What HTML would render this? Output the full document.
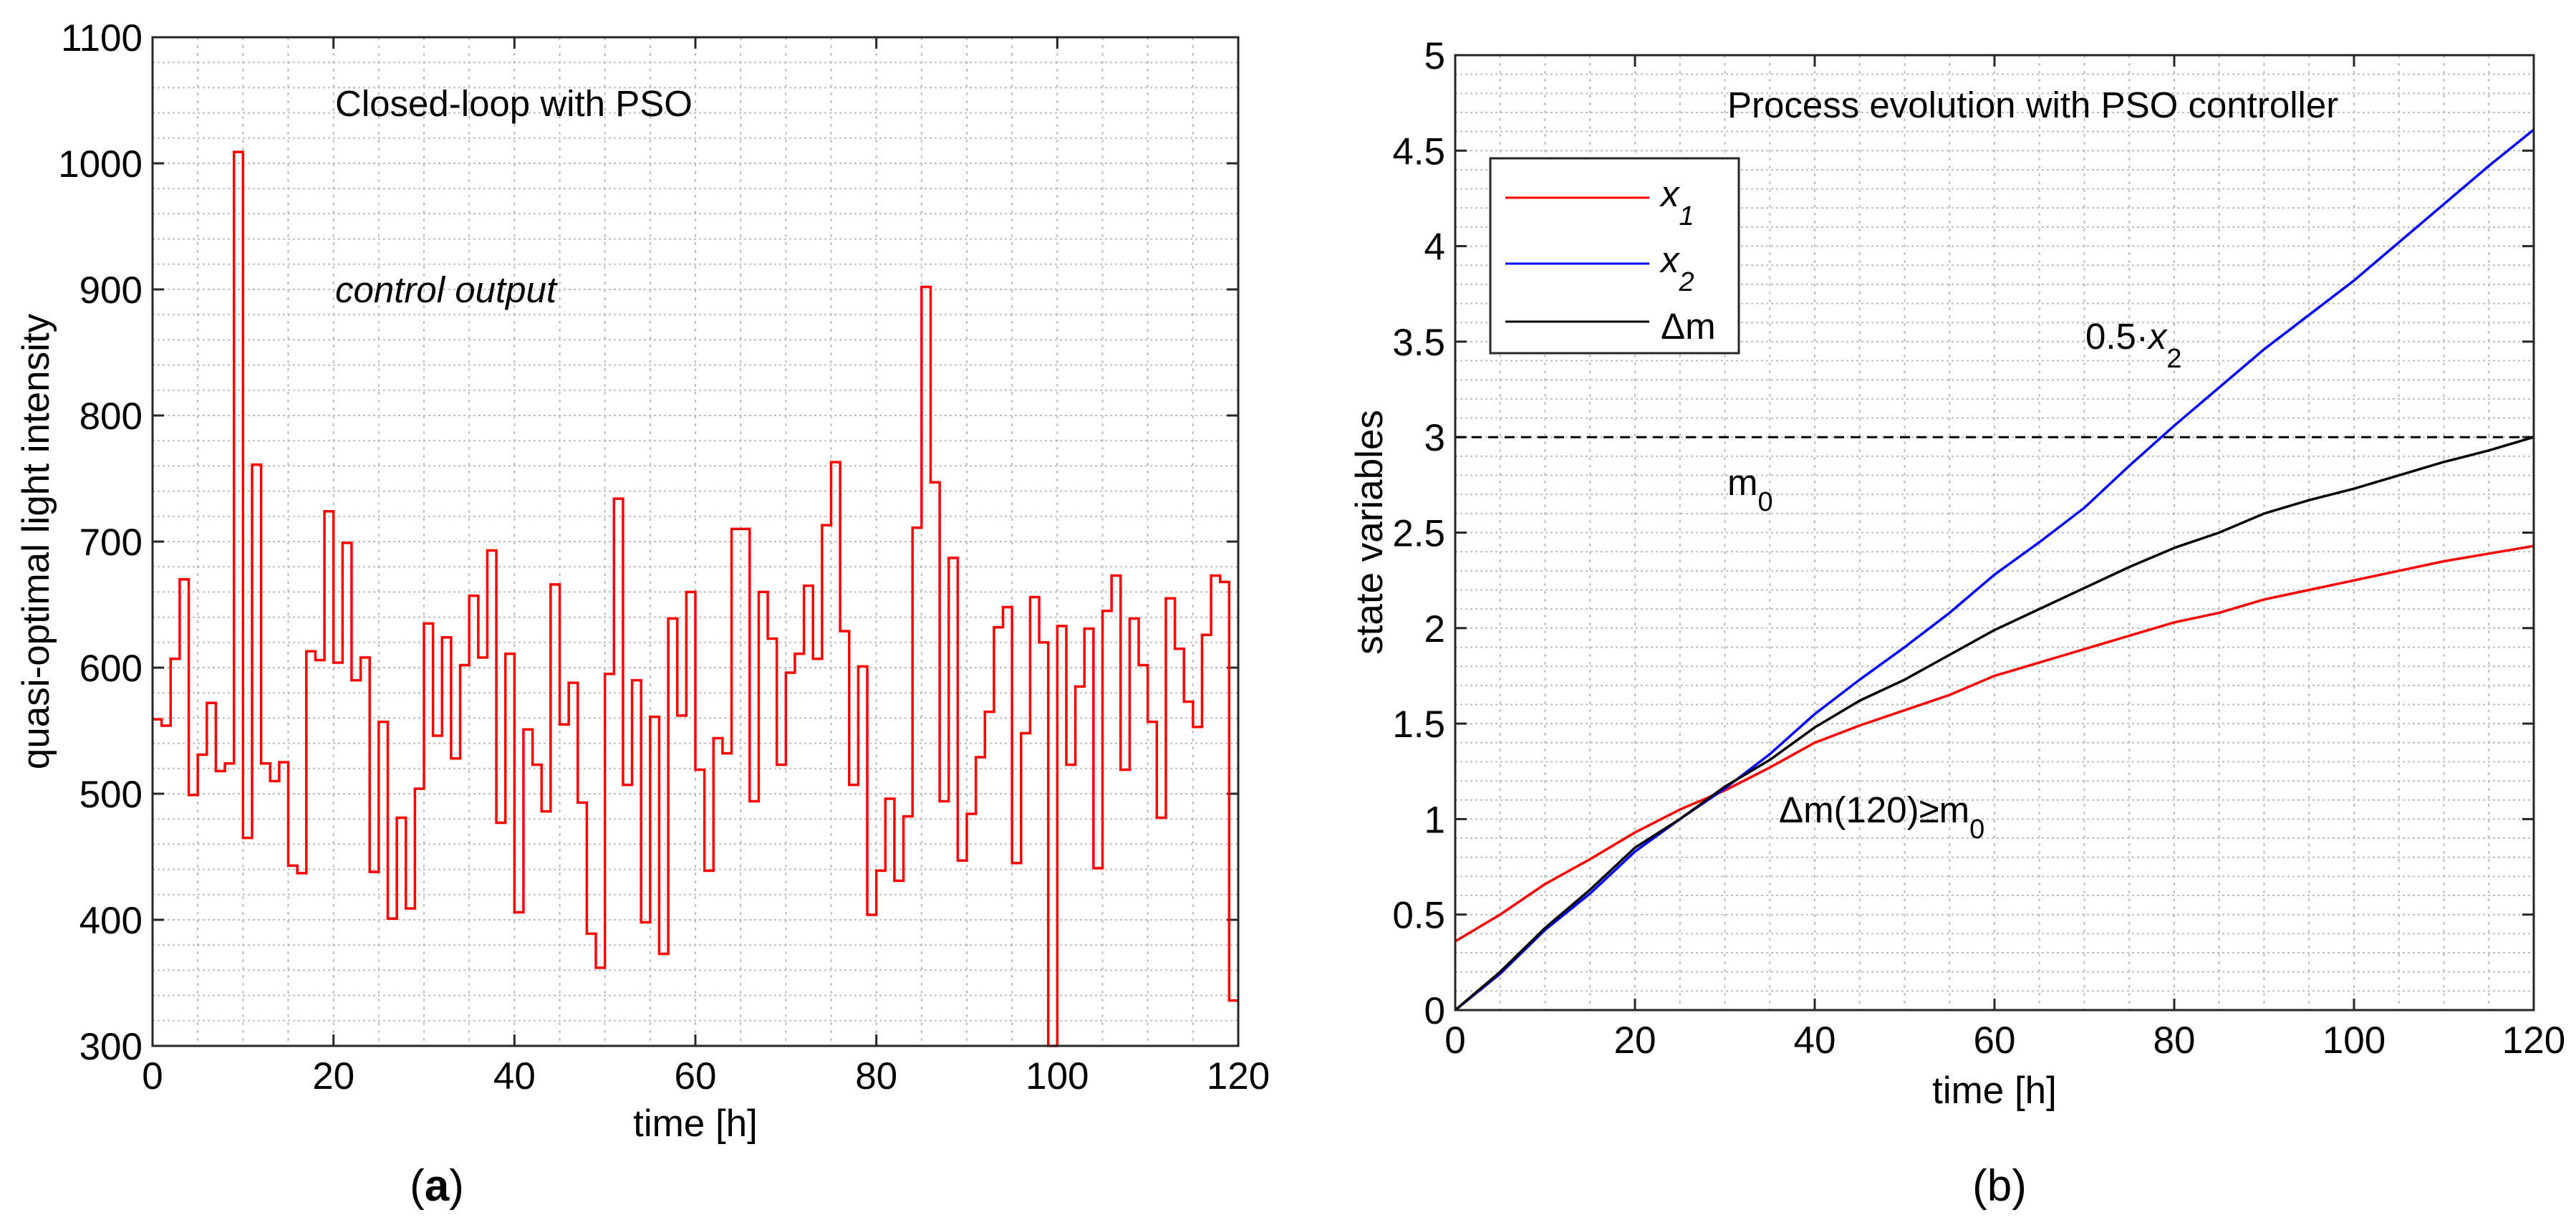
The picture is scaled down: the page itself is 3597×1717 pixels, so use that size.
<!DOCTYPE html>
<html><head><meta charset="utf-8"><style>
html,body{margin:0;padding:0;background:#fff}
svg{display:block}
text{font-family:"Liberation Sans",Arial,sans-serif;fill:#000}
</style></head><body>
<svg id="fig" width="3597" height="1717" viewBox="0 0 3597 1717" xmlns="http://www.w3.org/2000/svg">
<g id="pa"></g>
<g id="pb"></g>
</svg>
<script>
// Panel (a) data: hourly control output
const hoursA = Array.from({length:120},(_,i)=>i);
const controlOutput = [559,554,607,670,499,531,572,518,524,1009,465,761,524,510,525,443,437,613,606,724,
604,699,590,608,438,557,401,481,409,504,635,546,624,528,602,657,608,693,477,611,
406,551,523,486,666,555,588,493,389,362,595,734,507,590,398,561,373,639,562,660,
519,439,544,532,710,710,494,660,623,523,596,611,665,607,713,763,629,507,601,404,
439,496,431,482,711,902,747,494,687,447,484,529,565,632,648,445,548,656,620,300,
633,523,585,631,441,645,673,519,639,602,557,481,655,615,573,553,626,673,668,336];
const yTicksA = [300,400,500,600,700,800,900,1000,1100];
const xTicks = [0,20,40,60,80,100,120];
// Panel (b) data, sampled every 5 h
const timeB = [0,5,10,15,20,25,30,35,40,45,50,55,60,65,70,75,80,85,90,95,100,105,110,115,120];
const x1Vals = [0.36,0.5,0.66,0.79,0.93,1.05,1.15,1.27,1.4,1.49,1.57,1.65,1.75,1.82,1.89,1.96,2.03,2.08,2.15,2.2,2.25,2.3,2.35,2.39,2.43];
const x2Vals = [0,0.19,0.42,0.61,0.83,1.0,1.16,1.34,1.55,1.73,1.9,2.08,2.28,2.45,2.63,2.85,3.06,3.26,3.46,3.64,3.82,4.02,4.22,4.42,4.61];
const dmVals = [0,0.2,0.43,0.63,0.85,1.0,1.17,1.31,1.48,1.62,1.73,1.86,1.99,2.1,2.21,2.32,2.42,2.5,2.6,2.67,2.73,2.8,2.87,2.93,3.0];
const m0Value = [3];
const yTicksB = [0,0.5,1,1.5,2,2.5,3,3.5,4,4.5,5];

const NS="http://www.w3.org/2000/svg";
function mk(parent,tag,attrs,txt){const e=document.createElementNS(NS,tag);for(const k in attrs)e.setAttribute(k,attrs[k]);if(txt!==undefined)e.textContent=txt;parent.appendChild(e);return e;}

function axes(g,L,R,T,B,xmin,xmax,ymin,ymax,yMinorStep,yTicks,fmt){
  const sx=v=>L+(v-xmin)/(xmax-xmin)*(R-L);
  const sy=v=>B-(v-ymin)/(ymax-ymin)*(B-T);
  const grid=mk(g,'g',{});
  
  
  for(let v=xmin+5;v<xmax;v+=5){const l=mk(grid,'line',{x1:sx(v),x2:sx(v),y1:T,y2:B,stroke:'#bdbdbd','stroke-width':2,'stroke-dasharray':'4 7'});}
  const n=Math.round((ymax-ymin)/yMinorStep);
  for(let i=1;i<n;i++){const v=ymin+i*yMinorStep;mk(grid,'line',{x1:L,x2:R,y1:sy(v),y2:sy(v),stroke:'#bdbdbd','stroke-width':2,'stroke-dasharray':'3 4'});}
  const ax=mk(g,'g',{});
  
  
  xTicks.forEach(v=>{mk(ax,'line',{x1:sx(v),x2:sx(v),y1:B,y2:B-16,stroke:'#262626','stroke-width':3});mk(ax,'line',{x1:sx(v),x2:sx(v),y1:T,y2:T+16,stroke:'#262626','stroke-width':3});
    const t=mk(g,'text',{x:sx(v),y:B+60,'font-size':53,'text-anchor':'middle',fill:'#262626'},String(v));
    
    });
  yTicks.forEach(v=>{mk(ax,'line',{x1:L,x2:L+16,y1:sy(v),y2:sy(v),stroke:'#262626','stroke-width':3});mk(ax,'line',{x1:R,x2:R-16,y1:sy(v),y2:sy(v),stroke:'#262626','stroke-width':3});
    const t=mk(g,'text',{x:L-14,y:sy(v)+19,'font-size':53,'text-anchor':'end',fill:'#262626'},fmt(v));
    
    });
  return {sx,sy,ax};
}
function frame(g,L,R,T,B){const r=mk(g,'rect',{x:L,y:T,width:R-L,height:B-T,fill:'none',stroke:'#262626','stroke-width':3});
  
  }

// ---- Panel A ----
const pa=document.getElementById('pa');
(function(){
  const L=213,R=1729,T=52,B=1460;
  const {sx,sy}=axes(pa,L,R,T,B,0,120,300,1100,20,yTicksA,v=>String(v));
  let d='';
  controlOutput.forEach((v,i)=>{const x0=sx(hoursA[i]),x1=sx(hoursA[i]+1),y=sy(v);d+=(i===0?'M':'L')+x0+','+y+' L'+x1+','+y+' ';});
  const p=mk(pa,'path',{d:d,fill:'none',stroke:'#ff0000','stroke-width':3.5});
  
  
  frame(pa,L,R,T,B);
  let t=mk(pa,'text',{x:468,y:162,'font-size':51},'Closed-loop with PSO');
  
  
  t=mk(pa,'text',{x:468,y:422,'font-size':51,'font-style':'italic'},'control output');
  
  
  t=mk(pa,'text',{x:(L+R)/2,y:1586,'font-size':53,'text-anchor':'middle',fill:'#262626'},'time [h]');
  
  
  t=mk(pa,'text',{x:0,y:0,'font-size':53,'text-anchor':'middle',fill:'#262626',transform:'translate(68,756) rotate(-90)'},'quasi-optimal light intensity');
  
  
  t=mk(pa,'text',{x:610,y:1676,'font-size':62,'text-anchor':'middle','font-family':'Liberation Serif, serif'});
  t.innerHTML='(<tspan font-weight="bold">a</tspan>)';
  
  
})();

// ---- Panel B ----
const pb=document.getElementById('pb');
(function(){
  const L=2032,R=3538,T=77,B=1410;
  const {sx,sy}=axes(pb,L,R,T,B,0,120,0,5,0.1,yTicksB,v=>String(v));
  const dl=mk(pb,'line',{x1:sx(0),x2:sx(120),y1:sy(m0Value[0]),y2:sy(m0Value[0]),stroke:'#000','stroke-width':3,'stroke-dasharray':'14 9'});
  
  
  const series=[[x1Vals,'#ff0000','x1-line'],[x2Vals,'#0000ff','x2-line'],[dmVals,'#000000','delta-m-line']];
  series.forEach(s=>{
    const pts=timeB.map((t,i)=>sx(t)+','+sy(s[0][i])).join(' ');
    const p=mk(pb,'polyline',{points:pts,fill:'none',stroke:s[1],'stroke-width':3.5});
    
    
  });
  frame(pb,L,R,T,B);
  // legend
  const lg=mk(pb,'g',{});
  
  
  mk(lg,'rect',{x:2081,y:221,width:347,height:272,fill:'#fff',stroke:'#262626','stroke-width':3});
  const entries=[['#ff0000',276,'x','1'],['#0000ff',368,'x','2'],['#000000',449,null,null]];
  entries.forEach(e=>{
    mk(lg,'line',{x1:2102,x2:2303,y1:e[1],y2:e[1],stroke:e[0],'stroke-width':3});
    let t;
    if(e[2]){t=mk(lg,'text',{x:2319,y:e[1]+12,'font-size':51});t.innerHTML='<tspan font-style="italic">x</tspan><tspan font-style="italic" font-size="38" dy="26">'+e[3]+'</tspan>';}
    else{t=mk(lg,'text',{x:2319,y:e[1]+24,'font-size':51},'Δm');}
    
    
  });
  let t=mk(pb,'text',{x:2412,y:164,'font-size':51},'Process evolution with PSO controller');
  
  
  t=mk(pb,'text',{x:2912,y:487,'font-size':51});
  t.innerHTML='0.5·<tspan font-style="italic">x</tspan><tspan font-size="38" dy="26">2</tspan>';
  
  
  t=mk(pb,'text',{x:2412,y:691,'font-size':51});
  t.innerHTML='m<tspan font-size="38" dy="22">0</tspan>';
  
  
  t=mk(pb,'text',{x:2484,y:1148,'font-size':51});
  t.innerHTML='Δm(120)≥m<tspan font-size="38" dy="22">0</tspan>';
  
  
  t=mk(pb,'text',{x:(L+R)/2,y:1540,'font-size':53,'text-anchor':'middle',fill:'#262626'},'time [h]');
  
  
  t=mk(pb,'text',{x:0,y:0,'font-size':53,'text-anchor':'middle',fill:'#262626',transform:'translate(1930,743) rotate(-90)'},'state variables');
  
  
  t=mk(pb,'text',{x:2792,y:1676,'font-size':62,'text-anchor':'middle','font-family':'Liberation Serif, serif'},'(b)');
  
  
})();
</script>
</body></html>
